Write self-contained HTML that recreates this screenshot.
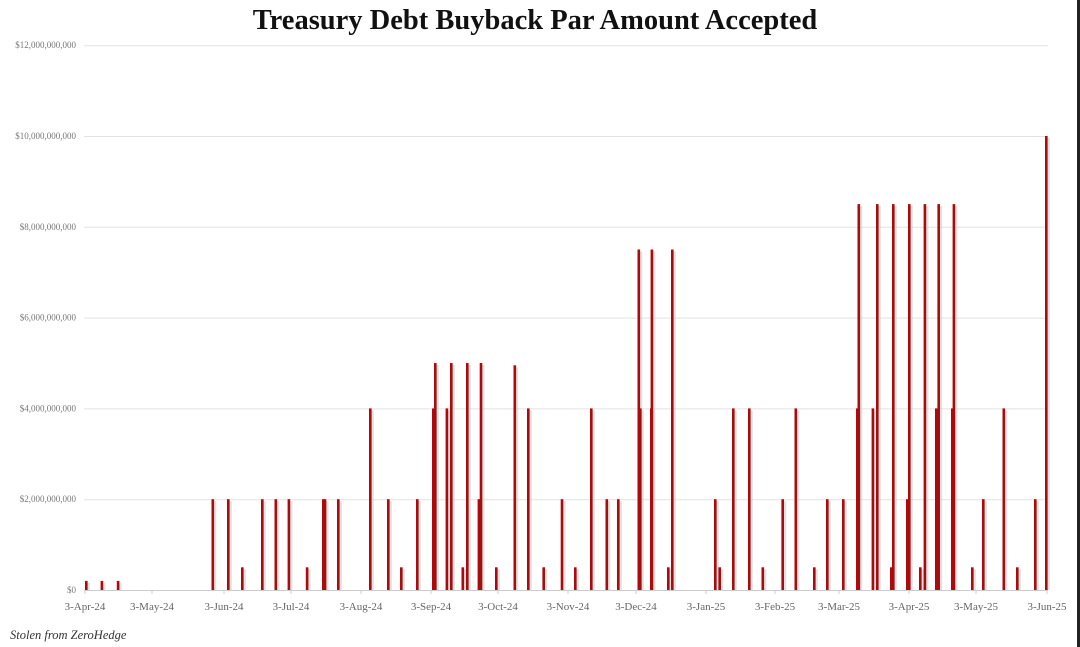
<!DOCTYPE html>
<html><head><meta charset="utf-8"><style>
html,body{margin:0;padding:0;background:#fff;}
svg{display:block;}
</style></head><body>
<svg id="c" width="1080" height="647" xmlns="http://www.w3.org/2000/svg" font-family="'Liberation Serif', serif">
<rect width="1080" height="647" fill="#fff"/>
<rect x="1077" y="0" width="3" height="647" fill="#222"/>
<text x="535" y="29" text-anchor="middle" font-size="28.5" font-weight="bold" fill="#111">Treasury Debt Buyback Par Amount Accepted</text>
<g id="grid" stroke="#dedede" stroke-width="1"></g>
<g id="ylab" font-size="9" fill="#777" text-anchor="end"></g>
<g id="xlab" font-size="11" fill="#666" text-anchor="middle"></g>
<g id="bars"></g>
<text x="10" y="639" font-size="12.5" font-style="italic" fill="#333">Stolen from ZeroHedge</text>
</svg>
<script>
var NS="http://www.w3.org/2000/svg";
function el(p,t,a,txt){var e=document.createElementNS(NS,t);for(var k in a)e.setAttribute(k,a[k]);if(txt)e.textContent=txt;document.getElementById(p).appendChild(e);}
var y0=590,pb=45.4;
for(var i=0;i<=6;i++){var y=y0-i*2*pb;
 el('grid','line',{x1:84,x2:1048,y1:y+0.5,y2:y+0.5,stroke:i==0?'#ccc':'#e2e2e2'});
 var s=i==0?'$0':'$'+(i*2)+',000,000,000';
 el('ylab','text',{x:76,y:y+3},s);}
var xl=[[85,'3-Apr-24'],[152,'3-May-24'],[224,'3-Jun-24'],[291,'3-Jul-24'],[361,'3-Aug-24'],[431,'3-Sep-24'],[498,'3-Oct-24'],[568,'3-Nov-24'],[636,'3-Dec-24'],[706,'3-Jan-25'],[775,'3-Feb-25'],[839,'3-Mar-25'],[909,'3-Apr-25'],[976,'3-May-25'],[1047,'3-Jun-25']];
xl.forEach(function(d){el('xlab','text',{x:d[0],y:610},d[1]);el('grid','line',{x1:d[0],x2:d[0],y1:590,y2:594,stroke:'#ccc'});});
var b=[[86,.2],[101.6,.2],[117.8,.2],[212.5,2],[228,2],[242,.5],[262,2],[275.5,2],[288.6,2],[306.8,.5],[323,2],[324.7,2],[338,2],[370,4],[388,2],[401,.5],[417,2],[433,4],[435,5],[446.6,4],[451,5],[462.5,.5],[467,5],[478.6,2],[480.7,5],[496,.5],[514.5,4.95],[528,4],
[543.4,.5],[561.7,2],[575,.5],[591,4],[606.5,2],[618,2],[638.5,7.5],[640,4],[651,4],[651.6,7.5],[668,.5],[672,7.5],[715,2],[719.4,.5],[733,4],[749,4],[762.5,.5],[782.4,2],[795.5,4],[814,.5],[827,2],[843,2],[857,4],[858.5,8.5],[872.6,4],[877,8.5],[891,.5],[893,8.5],[907,2],[909,8.5],[920,.5],[924.6,8.5],[936,4],[938.4,8.5],[952,4],[953.6,8.5],[972,.5],[983,2],[1003.5,4],[1017,.5],[1035,2],[1046,10]];
b.forEach(function(d){var h=d[1]*pb;el('bars','rect',{x:d[0]+0.8,y:y0-h+2,width:3,height:h-2,fill:'#ccc',opacity:0.6});});
b.forEach(function(d){var h=d[1]*pb;el('bars','rect',{x:d[0]-1,y:y0-h,width:2.6,height:h,fill:'#a80c0c'});});
</script>
</body></html>
